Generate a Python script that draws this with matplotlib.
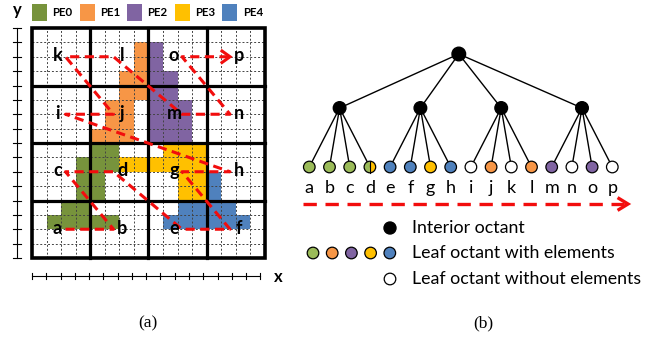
import matplotlib.pyplot as plt
from matplotlib.patches import Rectangle, Circle, Wedge

plt.rcParams['font.family'] = ['Lato', 'DejaVu Sans']

# processing elements and their colours
pe_names = ['PE0', 'PE1', 'PE2', 'PE3', 'PE4']
pe_fill = ['#77933C', '#F79646', '#8064A2', '#FFC000', '#4F81BD']
pe_leaf = ['#9BBB59', '#F79646', '#8064A2', '#FFC000', '#4F81BD']

# elements owned by each PE on the 16x16 fine grid: (row, first col, last col)
pe0_rows = [(2, 1, 5), (3, 2, 3), (4, 3, 4), (5, 3, 4), (6, 3, 5), (7, 4, 5)]
pe1_rows = [(8, 4, 6), (9, 5, 6), (10, 5, 6), (11, 6, 7), (12, 6, 7), (13, 7, 7), (14, 7, 7)]
pe2_rows = [(8, 8, 10), (9, 8, 10), (10, 8, 10), (11, 8, 9), (12, 8, 9), (13, 8, 8), (14, 8, 8)]
pe3_rows = [(4, 10, 11), (5, 10, 11), (6, 6, 11), (7, 9, 11)]
pe4_rows = [(2, 9, 14), (3, 10, 13), (4, 12, 12), (5, 12, 12)]
pe_rows = [pe0_rows, pe1_rows, pe2_rows, pe3_rows, pe4_rows]

# leaf octants in Morton order and the PEs whose elements they hold
octants = list('abcdefghijklmnop')
leaf_owner = [[0], [0], [0], [0, 3], [4], [4], [3], [4],
              [], [1], [], [1], [2], [], [2], []]

legend_labels = ['Interior octant', 'Leaf octant with elements',
                 'Leaf octant without elements']

RED = '#F20D0D'


def morton_cell(n):
    cx = (n & 1) + ((n >> 2) & 1) * 2
    cy = ((n >> 1) & 1) + ((n >> 3) & 1) * 2
    return cx, cy


fig = plt.figure(figsize=(6.55, 3.43), dpi=100)

# ---------------- (a) quadtree grid ----------------
sx, sy = 14.56, 14.375            # pixels per fine cell
axA = fig.add_axes([0, 43 / 343, 290 / 655, 300 / 343])
axA.set_xlim(-32 / sx, (290 - 32) / sx)
axA.set_ylim((258 - 300) / sy, 258 / sy)
axA.axis('off')

for rows, col in zip(pe_rows, pe_fill):
    for j, i0, i1 in rows:
        axA.add_patch(Rectangle((i0, j), i1 - i0 + 1, 1, fc=col, ec='none', zorder=1))

for k in range(1, 16):
    if k % 4:
        axA.plot([k, k], [0, 16], color='#444444', lw=0.7, dashes=(2, 2), zorder=2)
        axA.plot([0, 16], [k, k], color='#444444', lw=0.7, dashes=(2, 2), zorder=2)
for k in (4, 8, 12):
    axA.plot([k, k], [0, 16], color='black', lw=2.3, zorder=3)
    axA.plot([0, 16], [k, k], color='black', lw=2.3, zorder=3)
axA.add_patch(Rectangle((0, 0), 16, 16, fc='none', ec='black', lw=2.6,
                        joinstyle='miter', zorder=3))

# Z-order traversal through the leaf octants
path_u, path_v = [], []
for n, name in enumerate(octants):
    cx, cy = morton_cell(n)
    u, v = 4 * cx + 2, 4 * cy + 2
    left = cx % 2 == 0
    path_u.append(u + (0.3 if left else -0.4))
    path_v.append(v)
    axA.text(u + (-0.25 if left else 0.2), v - 0.3, name, fontsize=13,
             fontweight='bold', ha='center', va='baseline', zorder=6)
axA.plot(path_u, path_v, color=RED, lw=2.2, dashes=(3, 1.8), zorder=5)
eu, ev = path_u[-1], path_v[-1]
axA.plot([eu - 0.55, eu, eu - 0.55], [ev + 0.4, ev, ev - 0.4], color=RED, lw=2.2,
         solid_joinstyle='miter', zorder=5)

# rulers
axA.plot([-1.03, -1.03], [0, 16], color='black', lw=0.8)
for k in range(17):
    axA.plot([-1.3, -0.76], [k, k], color='black', lw=0.8)
rx = 14.27 / sx
axA.plot([0, 16 * rx], [-1.25, -1.25], color='black', lw=0.8)
for k in range(17):
    axA.plot([k * rx, k * rx], [-1.49, -1.01], color='black', lw=0.8)
axA.text(16.9, -1.3, 'x', fontsize=12, fontweight='bold', ha='center', va='center')
axA.text(-1.03, 17.25, 'y', fontsize=12, fontweight='bold', ha='center', va='center')

# PE legend
for k, (name, col) in enumerate(zip(pe_names, pe_fill)):
    u0 = 3.27 * k
    axA.add_patch(Rectangle((u0, 16.5), 1.03, 1.17, fc=col, ec='none'))
    axA.text(u0 + 1.4, 17.08, name, fontsize=8.3, fontweight='bold', va='center')

# ---------------- (b) octree ----------------
axB = fig.add_axes([290 / 655, 0, 365 / 655, 1])
axB.set_xlim(290, 655)
axB.set_ylim(343, 0)
axB.axis('off')

leaf_x = [309.3 + 20.2 * k for k in range(16)]
leaf_y = 167
mid_x = [sum(leaf_x[4 * g:4 * g + 4]) / 4 for g in range(4)]
mid_y = 108
root_x, root_y = sum(mid_x) / 4 - 2, 54

for g in range(4):
    axB.plot([root_x, mid_x[g]], [root_y, mid_y], color='black', lw=1.0, zorder=1)
    for k in range(4 * g, 4 * g + 4):
        axB.plot([mid_x[g], leaf_x[k]], [mid_y, leaf_y], color='black', lw=1.0, zorder=1)

axB.add_patch(Circle((root_x, root_y), 6.8, fc='black', ec='black', zorder=3))
for x in mid_x:
    axB.add_patch(Circle((x, mid_y), 6.3, fc='black', ec='black', zorder=3))

for x, owners, name in zip(leaf_x, leaf_owner, octants):
    r = 5.8
    if len(owners) == 2:
        axB.add_patch(Wedge((x, leaf_y), r, 90, 270, fc=pe_leaf[owners[0]], ec='none', zorder=3))
        axB.add_patch(Wedge((x, leaf_y), r, -90, 90, fc=pe_leaf[owners[1]], ec='none', zorder=3))
        axB.plot([x, x], [leaf_y - r, leaf_y + r], color='black', lw=0.8, zorder=4)
        axB.add_patch(Circle((x, leaf_y), r, fc='none', ec='black', lw=0.9, zorder=4))
    else:
        fc = pe_leaf[owners[0]] if owners else 'white'
        axB.add_patch(Circle((x, leaf_y), r, fc=fc, ec='black', lw=0.9, zorder=3))
    axB.text(x, 193, name, fontsize=13, ha='center', va='baseline')

axB.plot([303, 624], [204, 204], color=RED, lw=2.4, dashes=(4, 2.6))
axB.plot([619, 628, 619], [198.5, 204, 209.5], color=RED, lw=2.4,
         solid_joinstyle='miter')

# octant legend
axB.add_patch(Circle((390, 228), 6.0, fc='black', ec='black'))
for k, col in enumerate([pe_leaf[0], pe_leaf[1], pe_leaf[2], pe_leaf[3], pe_leaf[4]]):
    axB.add_patch(Circle((313 + 19.2 * k, 253), 5.8, fc=col, ec='black', lw=0.9))
axB.add_patch(Circle((390, 279), 5.8, fc='white', ec='black', lw=0.9))
for y, label in zip([228, 253, 279], legend_labels):
    axB.text(412, y, label, fontsize=12.8, va='center')

fig.text(148 / 655, 1 - 323 / 343, '(a)', fontsize=12.5, family='Liberation Serif',
         ha='center', va='center')
fig.text(483 / 655, 1 - 323 / 343, '(b)', fontsize=12.5, family='Liberation Serif',
         ha='center', va='center')

fig.savefig('out.png', dpi=100)
